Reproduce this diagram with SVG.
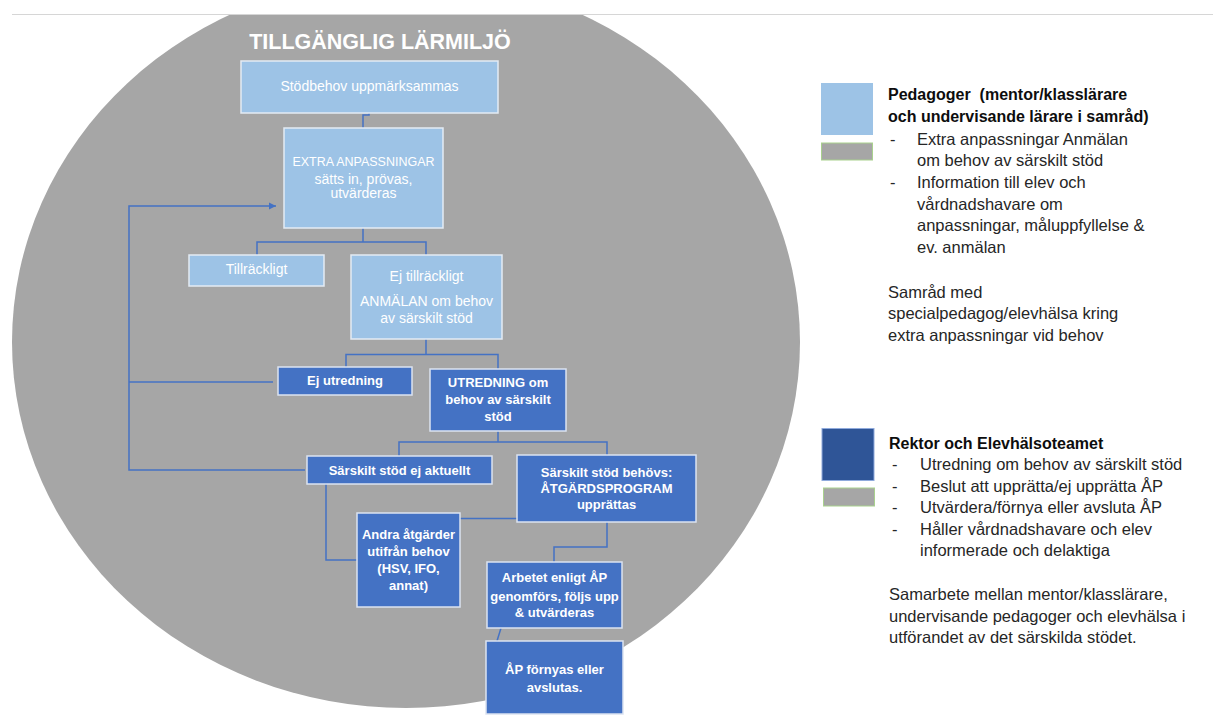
<svg xmlns="http://www.w3.org/2000/svg" width="1213" height="716" viewBox="0 0 1213 716">
<style>
.lb{fill:#9dc3e6;stroke:#e4ebf4;stroke-width:1.5}
.db{fill:#4472c4;stroke:#dbe3f1;stroke-width:1.5}
.t{font-family:"Liberation Sans",Arial,sans-serif;fill:#ffffff;text-anchor:middle}
.tl{font-size:14px}
.ts{font-size:12.5px}
.td{font-size:13px;font-weight:bold}
.c{fill:none;stroke:#4472c4;stroke-width:1.5}
.lg{font-family:"Liberation Sans",Arial,sans-serif;font-size:16.5px;fill:#262626}
.lgb{font-family:"Liberation Sans",Arial,sans-serif;font-size:16px;font-weight:bold;fill:#0d0d0d}
</style>
<defs>
<marker id="arr" markerWidth="8" markerHeight="8" refX="7" refY="4" orient="auto" markerUnits="userSpaceOnUse">
<path d="M0,0.5 L7,4 L0,7.5 z" fill="#4472c4"/>
</marker>
</defs>
<rect x="0" y="0" width="1213" height="716" fill="#ffffff"/>
<g id="background">
<ellipse cx="406" cy="342" rx="394" ry="366" fill="#a6a6a6"/>
<rect x="0" y="0" width="1213" height="14" fill="#ffffff"/>
<line x1="12" y1="14.5" x2="1213" y2="14.5" stroke="#d6d6d6" stroke-width="1"/>
<text x="380" y="49" font-family="Liberation Sans,Arial,sans-serif" font-size="21.5" font-weight="bold" fill="#ffffff" text-anchor="middle">TILLGÄNGLIG LÄRMILJÖ</text>
</g>
<g id="connectors">
<path class="c" d="M369,113 V115 H363 V128"/>
<path class="c" d="M363,228 V242 M257,255 V242 H426 V255"/>
<path class="c" d="M426,339 V354.5 M346,367 V354.5 H498 V369"/>
<path class="c" d="M498,431 V442 M399,456 V442 H607 V455"/>
<path class="c" d="M326,484 V560 H357"/>
<path class="c" d="M460,518.5 H517"/>
<path class="c" d="M607,522 V547 H554 V562"/>
<path class="c" d="M501,628 L497,641"/>
<path class="c" d="M305,470 H129 V206 H276" marker-end="url(#arr)"/>
<path class="c" d="M273,382 H129"/>
</g>
<g id="n1"><rect class="lb" x="241" y="61" width="257" height="52"/><text class="t tl" x="369.5" y="91">Stödbehov uppmärksammas</text></g>
<g id="n2"><rect class="lb" x="284" y="128" width="159" height="100"/><text class="t ts" x="363.5" y="165.5">EXTRA ANPASSNINGAR</text><text class="t tl" x="363.5" y="184">sätts in, prövas,</text><text class="t tl" x="363.5" y="198">utvärderas</text></g>
<g id="n3"><rect class="lb" x="189" y="255" width="135" height="31"/><text class="t tl" x="256.5" y="274">Tillräckligt</text></g>
<g id="n4"><rect class="lb" x="351" y="255" width="151" height="84"/><text class="t tl" x="426.5" y="281">Ej tillräckligt</text><text class="t tl" x="426.5" y="306">ANMÄLAN om behov</text><text class="t tl" x="426.5" y="323">av särskilt stöd</text></g>
<g id="n5"><rect class="db" x="278" y="367" width="134" height="28"/><text class="t td" x="345" y="385">Ej utredning</text></g>
<g id="n6"><rect class="db" x="430" y="369" width="136" height="62"/><text class="t td" x="498" y="386.5">UTREDNING om</text><text class="t td" x="498" y="404">behov av särskilt</text><text class="t td" x="498" y="420.5">stöd</text></g>
<g id="n7"><rect class="db" x="307" y="456" width="185" height="28"/><text class="t td" x="399.5" y="475">Särskilt stöd ej aktuellt</text></g>
<g id="n8"><rect class="db" x="517" y="455" width="179" height="67"/><text class="t td" x="606.5" y="476.5">Särskilt stöd behövs:</text><text class="t td" x="606.5" y="493">ÅTGÄRDSPROGRAM</text><text class="t td" x="606.5" y="509">upprättas</text></g>
<g id="n9"><rect class="db" x="357" y="513" width="103" height="94"/><text class="t td" x="408.5" y="539">Andra åtgärder</text><text class="t td" x="408.5" y="556">utifrån behov</text><text class="t td" x="408.5" y="573">(HSV, IFO,</text><text class="t td" x="408.5" y="590">annat)</text></g>
<g id="n10"><rect class="db" x="487" y="562" width="135" height="66"/><text class="t td" x="554.5" y="582">Arbetet enligt ÅP</text><text class="t td" x="554.5" y="600.5">genomförs, följs upp</text><text class="t td" x="554.5" y="617">&amp; utvärderas</text></g>
<g id="n11"><rect class="db" x="486" y="641" width="137" height="73"/><text class="t td" x="554.5" y="674">ÅP förnyas eller</text><text class="t td" x="554.5" y="691.5">avslutas.</text></g>
<g id="legend1">
<rect x="821" y="83" width="52" height="52" fill="#9dc3e6"/>
<rect x="821.5" y="143" width="51" height="17" fill="#a6a6a6" stroke="#a9d18e" stroke-width="1"/>
<text class="lgb" x="888" y="100">Pedagoger&#160; (mentor/klasslärare</text>
<text class="lgb" x="888" y="121.5">och undervisande lärare i samråd)</text>
<text class="lg" x="890" y="144.5">-</text><text class="lg" x="917" y="144.5">Extra anpassningar Anmälan</text>
<text class="lg" x="917" y="166">om behov av särskilt stöd</text>
<text class="lg" x="890" y="188">-</text><text class="lg" x="917" y="188">Information till elev och</text>
<text class="lg" x="917" y="209.5">vårdnadshavare om</text>
<text class="lg" x="917" y="231">anpassningar, måluppfyllelse &amp;</text>
<text class="lg" x="917" y="253">ev. anmälan</text>
<text class="lg" x="888" y="297.5">Samråd med</text>
<text class="lg" x="888" y="319">specialpedagog/elevhälsa kring</text>
<text class="lg" x="888" y="341">extra anpassningar vid behov</text>
</g>
<g id="legend2">
<rect x="822" y="428.5" width="52" height="52" fill="#2f5597" stroke="#8faadc" stroke-width="1"/>
<rect x="823.5" y="488" width="51" height="18" fill="#a6a6a6" stroke="#a9d18e" stroke-width="1"/>
<text class="lgb" x="889" y="449">Rektor och Elevhälsoteamet</text>
<text class="lg" x="892" y="470">-</text><text class="lg" x="920" y="470">Utredning om behov av särskilt stöd</text>
<text class="lg" x="892" y="492">-</text><text class="lg" x="920" y="492">Beslut att upprätta/ej upprätta ÅP</text>
<text class="lg" x="892" y="513">-</text><text class="lg" x="920" y="513">Utvärdera/förnya eller avsluta ÅP</text>
<text class="lg" x="892" y="535">-</text><text class="lg" x="920" y="535">Håller vårdnadshavare och elev</text>
<text class="lg" x="920" y="556">informerade och delaktiga</text>
<text class="lg" x="889" y="600">Samarbete mellan mentor/klasslärare,</text>
<text class="lg" x="889" y="621.5">undervisande pedagoger och elevhälsa i</text>
<text class="lg" x="889" y="643">utförandet av det särskilda stödet.</text>
</g>
</svg>
